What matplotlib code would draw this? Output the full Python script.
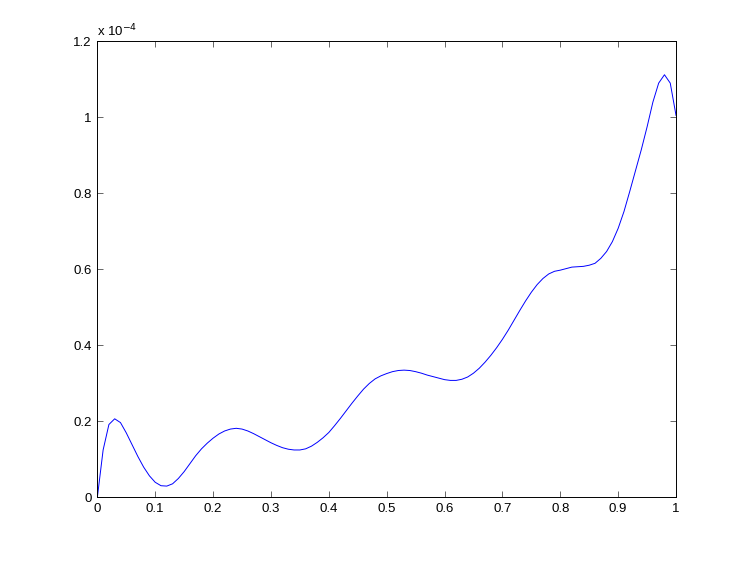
import numpy as np
import matplotlib
matplotlib.use("Agg")
import matplotlib.pyplot as plt
from matplotlib.ticker import FuncFormatter

# values, one per 0.01 step in x, y in units of 1e-4
x_vals = [round(0.01 * i, 2) for i in range(101)]
y_vals = [0.000, 0.125, 0.192, 0.207, 0.197, 0.170, 0.139, 0.108, 0.080, 0.057,  # 0.00-0.09
          0.040, 0.031, 0.030, 0.036, 0.050, 0.068, 0.089, 0.110, 0.128, 0.143,  # 0.10-0.19
          0.156, 0.167, 0.175, 0.180, 0.182, 0.180, 0.175, 0.168, 0.160, 0.152,  # 0.20-0.29
          0.144, 0.137, 0.131, 0.127, 0.125, 0.125, 0.128, 0.135, 0.145, 0.157,  # 0.30-0.39
          0.171, 0.189, 0.208, 0.228, 0.248, 0.267, 0.285, 0.300, 0.312, 0.320,  # 0.40-0.49
          0.326, 0.331, 0.334, 0.335, 0.334, 0.331, 0.327, 0.322, 0.318, 0.314,  # 0.50-0.59
          0.310, 0.308, 0.308, 0.311, 0.317, 0.327, 0.340, 0.356, 0.374, 0.394,  # 0.60-0.69
          0.416, 0.440, 0.466, 0.492, 0.517, 0.540, 0.560, 0.576, 0.588, 0.595,  # 0.70-0.79
          0.598, 0.602, 0.606, 0.607, 0.608, 0.611, 0.616, 0.629, 0.647, 0.673,  # 0.80-0.89
          0.708, 0.752, 0.805, 0.860, 0.915, 0.975, 1.040, 1.090, 1.112, 1.090,  # 0.90-0.99
          1.005]
scale = 1e-4

x_ticks = [0, 0.1, 0.2, 0.3, 0.4, 0.5, 0.6, 0.7, 0.8, 0.9, 1]
y_ticks = [0, 0.2, 0.4, 0.6, 0.8, 1.0, 1.2]

plt.rcParams['font.family'] = ['Liberation Sans', 'DejaVu Sans']

fig = plt.figure(figsize=(7.47, 5.61), dpi=100)
ax = fig.add_axes([0.1303, 0.1132, 0.905 - 0.1303, 0.9264 - 0.1132])

ax.plot(x_vals, np.array(y_vals) * scale, color=(0, 0, 1), lw=0.7)

ax.set_xlim(0, 1)
ax.set_ylim(0, 1.2 * scale)
ax.set_xticks(x_ticks)
ax.set_yticks([v * scale for v in y_ticks])
ax.xaxis.set_major_formatter(FuncFormatter(lambda v, p: f"{v:g}"))
ax.yaxis.set_major_formatter(FuncFormatter(lambda v, p: f"{round(v / scale, 1):g}"))
ax.tick_params(direction='in', length=4, width=0.6, top=True, right=True,
               labelsize=9.5, pad=4, color='0.3')
for s in ax.spines.values():
    s.set_linewidth(0.7)

ax.text(0.0, 1.005, r"x 10$^{-4}$", transform=ax.transAxes, fontsize=9.5,
        ha='left', va='bottom')

fig.savefig("out.png", dpi=100)
